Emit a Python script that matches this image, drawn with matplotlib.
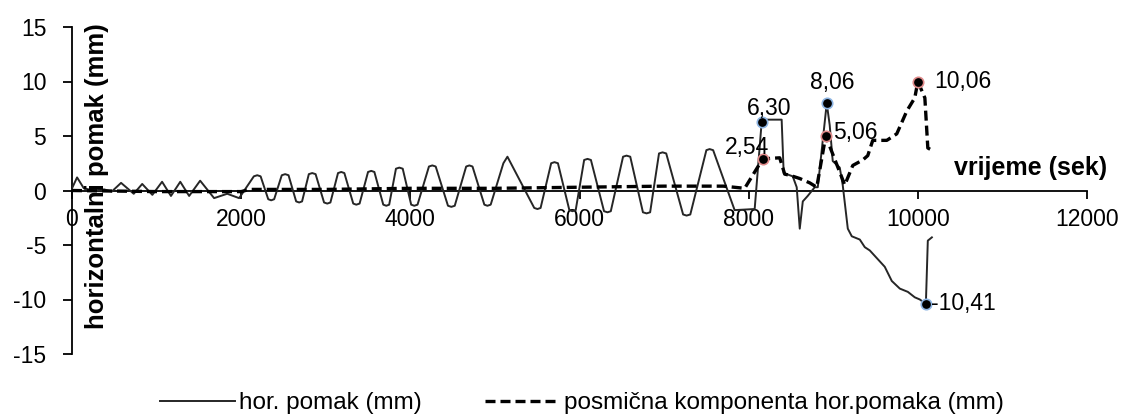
import matplotlib
matplotlib.use("Agg")
import matplotlib.pyplot as plt

plt.rcParams['font.family'] = ['Liberation Sans', 'DejaVu Sans']

# ---- data ----
hor_t = [0, 60, 140, 260, 380, 470, 580, 730, 830, 950, 1065, 1170, 1280, 1385,
         1515, 1680, 1835, 1976,
         2150, 2190, 2230, 2320, 2355, 2390, 2480, 2520, 2560, 2650, 2686, 2720,
         2800, 2840, 2880, 2980, 3018, 3055, 3145, 3183, 3220, 3325, 3361, 3400,
         3500, 3538, 3575, 3680, 3716, 3750, 3830, 3870, 3910, 4010, 4047, 4085,
         4220, 4260, 4300, 4445, 4485, 4525, 4660, 4698, 4735, 4875, 4911, 4950,
         5100, 5148, 5195, 5465, 5503, 5540, 5665, 5704, 5745, 5880, 5917, 5955,
         6055, 6095, 6135, 6290, 6331, 6370, 6515, 6556, 6600, 6750, 6793, 6835,
         6940, 6982, 7025, 7225, 7266, 7310, 7500, 7538, 7580, 7834, 8071,
         8154, 8190, 8390, 8414, 8521, 8568, 8604, 8640, 8698, 8781, 8817, 8923,
         8958, 8994, 9077, 9112, 9172, 9219, 9314, 9373, 9432, 9527, 9609, 9692,
         9787, 9882, 9964, 10024, 10095, 10118, 10166]
hor_v = [0.2, 1.2, 0.2, 0.0, 0.1, -0.1, 0.7, -0.3, 0.6, -0.4, 0.8, -0.5, 0.8, -0.5,
         0.9, -0.7, -0.3, -0.7,
         1.3, 1.4, 1.3, -0.8, -0.9, -0.8, 1.4, 1.5, 1.4, -1.0, -1.1, -1.0,
         1.5, 1.6, 1.5, -1.1, -1.2, -1.1, 1.6, 1.7, 1.6, -1.2, -1.3, -1.2,
         1.7, 1.8, 1.7, -1.3, -1.4, -1.3, 2.0, 2.1, 2.0, -1.3, -1.4, -1.3,
         2.2, 2.3, 2.2, -1.4, -1.5, -1.4, 2.2, 2.3, 2.2, -1.3, -1.4, -1.3,
         2.5, 3.1, 2.4, -1.6, -1.7, -1.6, 2.5, 2.6, 2.5, -1.8, -1.9, -1.8,
         2.8, 2.9, 2.8, -1.9, -2.0, -1.9, 3.1, 3.2, 3.1, -2.0, -2.1, -2.0,
         3.4, 3.5, 3.4, -2.2, -2.3, -2.2, 3.7, 3.8, 3.7, -1.8, -1.7,
         6.3, 6.5, 6.5, 1.6, 1.3, 0.3, -3.5, -1.0, -0.5, 0.3, 0.3, 8.0,
         6.0, 2.7, 2.1, 0.5, -3.5, -4.2, -4.5, -5.2, -5.5, -6.3, -7.0, -8.3,
         -9.0, -9.3, -9.8, -10.0, -10.4, -4.6, -4.3]

pos_t = [0, 1000, 2000, 2100, 3000, 4000, 5000, 6000, 7000, 7700, 7953, 8166,
         8367, 8426, 8485, 8604, 8722, 8805, 8911, 9136, 9231, 9349, 9408, 9467,
         9633, 9751, 9870, 9964, 10000, 10083, 10118, 10166]
pos_v = [0.0, -0.1, -0.1, 0.1, 0.1, 0.2, 0.2, 0.3, 0.4, 0.4, 0.2, 2.9,
         3.0, 1.5, 1.4, 1.1, 0.7, 0.3, 5.0, 0.5, 2.3, 2.8, 3.2, 4.6,
         4.6, 5.2, 7.3, 8.5, 10.0, 8.5, 3.9, 3.7]

# highlighted points: (time, plotted value, label)
hor_pts_t = [8154, 8923, 10095]
hor_pts_v = [6.3, 8.0, -10.4]
hor_pts_lbl = ['6,30', '8,06', '-10,41']
pos_pts_t = [8166, 8911, 10000]
pos_pts_v = [2.9, 5.0, 10.0]
pos_pts_lbl = ['2,54', '5,06', '10,06']

x_ticks = [0, 2000, 4000, 6000, 8000, 10000, 12000]
x_ticklabels = ['0', '2000', '4000', '6000', '8000', '10000', '12000']
y_ticks = [-15, -10, -5, 0, 5, 10, 15]
y_ticklabels = ['-15', '-10', '-5', '0', '5', '10', '15']

legend_labels = ['hor. pomak (mm)', 'posmična komponenta hor.pomaka (mm)']

# ---- figure ----
W, H, DPI = 1124, 416, 100
fig = plt.figure(figsize=(W / DPI, H / DPI), dpi=DPI)
ax = fig.add_axes([72 / W, 1 - 354 / H, (1087 - 72) / W, (354 - 27) / H])

FS = 16.5
l1, = ax.plot(hor_t, hor_v, color='#262626', lw=1.4, label=legend_labels[0], zorder=3)
l2, = ax.plot(pos_t, pos_v, color='black', lw=2.4, dashes=(3.0, 1.5),
              label=legend_labels[1], zorder=4)

ax.plot(hor_pts_t, hor_pts_v, 'o', ms=7.5, mfc='black', mec='#8db4e2', mew=1.2, zorder=6)
ax.plot(pos_pts_t, pos_pts_v, 'o', ms=7.5, mfc='black', mec='#e08a8a', mew=1.2, zorder=6)

px = 0.72  # pixel -> point
offs_h = [(7, 13), (6, 21), (38, 0)]
offs_p = [(-16, 11), (30, 3), (45, 0)]
for t, v, s, (dx, dy) in zip(hor_pts_t, hor_pts_v, hor_pts_lbl, offs_h):
    ax.annotate(s, (t, v), xytext=(dx * px, dy * px), textcoords='offset points',
                ha='center', va='center', fontsize=FS, zorder=7)
for t, v, s, (dx, dy) in zip(pos_pts_t, pos_pts_v, pos_pts_lbl, offs_p):
    ax.annotate(s, (t, v), xytext=(dx * px, dy * px), textcoords='offset points',
                ha='center', va='center', fontsize=FS, zorder=7)

ax.set_xlim(0, 12000)
ax.set_ylim(-15, 15)
ax.set_xticks(x_ticks)
ax.set_xticklabels(x_ticklabels)
ax.set_yticks(y_ticks)
ax.set_yticklabels(y_ticklabels)

for s in ['top', 'right']:
    ax.spines[s].set_visible(False)
ax.spines['bottom'].set_position(('data', 0))
ax.spines['bottom'].set_linewidth(1.3)
ax.spines['left'].set_linewidth(1.3)
ax.tick_params(axis='y', direction='out', length=6.5, width=1.3, pad=12, labelsize=FS)
ax.tick_params(axis='x', direction='out', length=5.8, width=1.3, pad=7, labelsize=FS)

ax.text(0.0246, 0.544, 'horizontalni pomak (mm)', transform=ax.transAxes,
        rotation=90, ha='center', va='center', fontsize=18.5, fontweight='bold', zorder=8)
ax.text(0.944, 0.569, 'vrijeme (sek)', transform=ax.transAxes,
        ha='center', va='center', fontsize=18, fontweight='bold')

fig.legend(handles=[l1, l2], loc='center', bbox_to_anchor=(582 / W, 1 - 403 / H),
           ncol=2, frameon=False, fontsize=17.5, handlelength=3.1,
           columnspacing=2.6, handletextpad=0.15)

fig.savefig('out.png', dpi=DPI)
